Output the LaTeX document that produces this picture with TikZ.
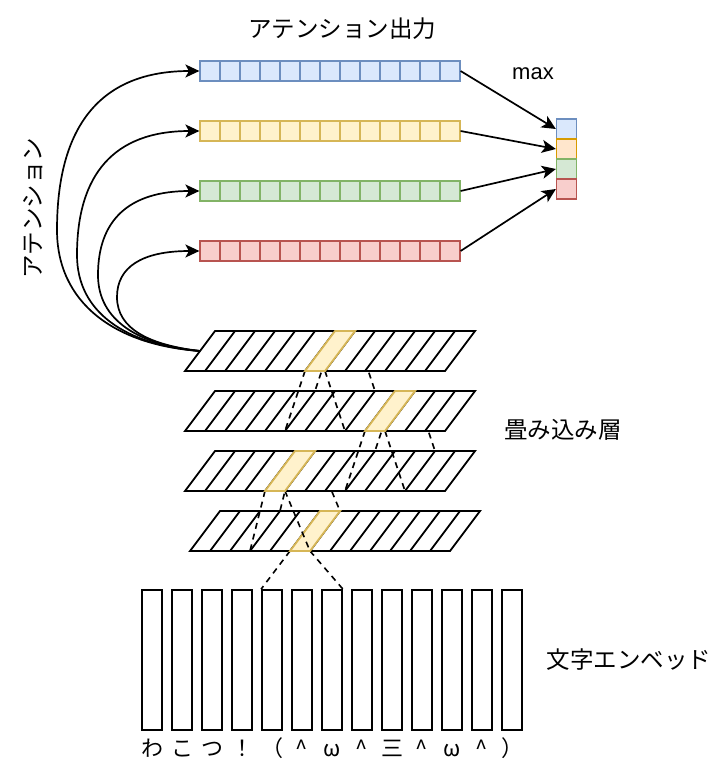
\documentclass[tikz,border=0pt]{standalone}
\usepackage{fontspec}
\setmainfont{Liberation Sans}
\newfontfamily\jpfont{Noto Sans CJK JP}
\usetikzlibrary{arrows.meta}

\definecolor{blueline}{HTML}{6C8EBF}
\definecolor{bluefill}{HTML}{DAE8FC}
\definecolor{yellowline}{HTML}{D6B656}
\definecolor{yellowfill}{HTML}{FFF2CC}
\definecolor{greenline}{HTML}{82B366}
\definecolor{greenfill}{HTML}{D5E8D4}
\definecolor{redline}{HTML}{B85450}
\definecolor{redfill}{HTML}{F8CECC}
\definecolor{orangeline}{HTML}{D79B00}
\definecolor{orangefill}{HTML}{FFE6CC}

\begin{document}
\begin{tikzpicture}[
      x=1pt, y=-1pt,
      cell/.style={rectangle,line width=1.2pt,minimum width=20pt,minimum height=20pt,inner sep=0pt},
      bluecell/.style={cell,draw=blueline,fill=bluefill},
      yellowcell/.style={cell,draw=yellowline,fill=yellowfill},
      greencell/.style={cell,draw=greenline,fill=greenfill},
      redcell/.style={cell,draw=redline,fill=redfill},
      orangecell/.style={cell,draw=orangeline,fill=orangefill},
      layerbox/.style={draw=black,fill=white,line width=1.8pt,line join=miter},
      layerline/.style={draw=black,line width=1.8pt},
      hlcell/.style={draw=yellowline,fill=yellowfill,line width=1.8pt},
      embcol/.style={rectangle,draw=black,line width=1.8pt,minimum width=20pt,minimum height=140pt,inner sep=0pt},
      rfline/.style={draw=black,line width=1.6pt,dash pattern=on 6pt off 5pt},
      arrow/.style={-{Stealth[length=14pt,width=13pt,inset=3.5pt]},line width=1.7pt,draw=black},
      jptext/.style={font=\jpfont\fontsize{23.5}{28}\selectfont},
      latintext/.style={font=\fontsize{22}{26}\selectfont},
      charlbl/.style={font=\jpfont\fontsize{22}{26}\selectfont,anchor=base,inner sep=0pt}
    ]
    \useasboundingbox (0,0) rectangle (724,782);

    % Attention outputs
    \foreach \r/\y/\c in {1/71/blue, 2/131/yellow, 3/191/green, 4/251/red}
      \foreach \k in {0,...,12}
        \node[\c cell] (a\r-\k) at (210+20*\k, \y) {};

    % Max
    \node[bluecell] (m1) at (566.5,129) {};
    \node[orangecell] (m2) at (566.5,149) {};
    \node[greencell] (m3) at (566.5,169) {};
    \node[redcell] (m4) at (566.5,189) {};

    \foreach \r in {1,...,4}
      \draw[arrow] (a\r-12.east) -- (m\r.west);

    % Corners of the convolution layers
    \foreach \i/\ty/\dx in {1/331/0, 2/391/0, 3/451/0, 4/511/5}
      \foreach \j in {0,...,13} {
        \coordinate (t\i-\j) at (215+\dx+20*\j, \ty);
        \coordinate (b\i-\j) at (185+\dx+20*\j, \ty+40);
      }
    \coordinate (src) at (200,351);

    % Character embeddings
    \foreach \k in {0,...,12}
      \node[embcol] (e\k) at (152+30*\k, 660) {};
    \foreach \ch [count=\k from 0] in {わ,こ,つ,！,（,\textasciicircum,ω,\textasciicircum,三,\textasciicircum,ω,\textasciicircum,）}
      \node[charlbl] (ch\k) at (152+30*\k, 756) {\ch};

    \draw[rfline] (b4-5) -- (e4.north west);
    \draw[rfline] (b4-6) -- (e6.north east);

    % Convolution layers, bottom first
    \foreach \i/\h in {4/5, 3/4, 2/9, 1/6} {
      \pgfmathtruncatemacro\nx{\i+1}
      \pgfmathtruncatemacro\hh{\h+1}
      \pgfmathtruncatemacro\ra{\h-1}
      \pgfmathtruncatemacro\rb{\h+2}
      \ifnum\i<4
        \draw[rfline] (t\i-\h) -- (t\nx-\ra);
        \draw[rfline] (t\i-\hh) -- (t\nx-\rb);
        \draw[rfline] (b\i-\h) -- (b\nx-\ra);
        \draw[rfline] (b\i-\hh) -- (b\nx-\rb);
      \fi
      \filldraw[layerbox] (t\i-0) -- (t\i-13) -- (b\i-13) -- (b\i-0) -- cycle;
      \foreach \j in {1,...,12}
        \draw[layerline] (t\i-\j) -- (b\i-\j);
      \filldraw[hlcell] (t\i-\h) -- (t\i-\hh) -- (b\i-\hh) -- (b\i-\h) -- cycle;
    }

    % Attention curves
    \foreach \r/\xl/\ym in {1/57/230, 2/77/255, 3/98/275, 4/117/297} {
      \pgfmathsetmacro\yt{11+60*\r}
      \pgfmathsetmacro\ca{200-0.6*(200-\xl)}
      \pgfmathsetmacro\cb{\ym+0.6*(351-\ym)}
      \pgfmathsetmacro\cc{\ym-0.65*(\ym-\yt)}
      \pgfmathsetmacro\cd{200-0.7*(200-\xl)}
      \draw[arrow] (src) .. controls (\ca,345) and (\xl,\cb) .. (\xl,\ym)
        .. controls (\xl,\cc) and (\cd,\yt) .. (a\r-0.west);
    }

    % Labels
    \node[jptext] (outlbl) at (342,29) {アテンション出力};
    \node[latintext] (maxlbl) at (533,74) {max};
    \node[jptext,rotate=90] (attlbl) at (33,208) {アテンション};
    \node[jptext] (convlbl) at (563,430) {畳み込み層};
    \node[jptext] (emblbl) at (629,660) {文字エンベッド};

  \end{tikzpicture}
\end{document}
